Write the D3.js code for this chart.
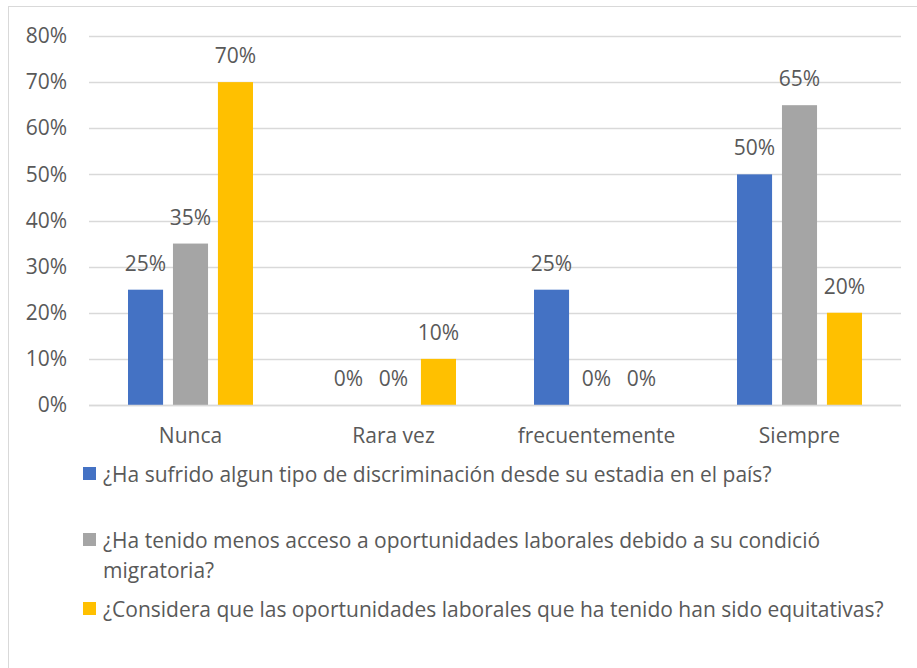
<!DOCTYPE html>
<html>
<head>
<meta charset="utf-8">
<script src="https://cdn.jsdelivr.net/npm/d3@7"></script>
<style>
  body { margin: 0; background: #fff; }
  text { font-family: "Open Sans", "Noto Sans", sans-serif; fill: #595959; }
</style>
</head>
<body>
<div id="chart"></div>
<script>
const categories = ["Nunca", "Rara vez", "frecuentemente", "Siempre"];
const seriesNames = [
  "¿Ha sufrido algun tipo de discriminación desde su estadia en el país?",
  "¿Ha tenido menos acceso a oportunidades laborales debido a su condició migratoria?",
  "¿Considera que las oportunidades laborales que ha tenido han sido equitativas?"
];
const seriesValues = [
  [0.25, 0, 0.25, 0.50],
  [0.35, 0, 0, 0.65],
  [0.70, 0.10, 0, 0.20]
];
const colors = ["#4472c4", "#a5a5a5", "#ffc000"];
const yTicks = [0, 0.1, 0.2, 0.3, 0.4, 0.5, 0.6, 0.7, 0.8];

const width = 917, height = 668;
const plot = { left: 89, right: 901, top: 36, bottom: 405 };
const fontSize = 21;

const svg = d3.select("#chart")
  .append("svg")
  .attr("width", width)
  .attr("height", height);

// chart frame
svg.append("rect")
  .attr("x", 8.5).attr("y", 6.5)
  .attr("width", 920).attr("height", 700)
  .attr("fill", "none")
  .attr("stroke", "#d9d9d9");

const x0 = d3.scaleBand()
  .domain(categories)
  .range([plot.left, plot.right]);

const x1 = d3.scaleBand()
  .domain(d3.range(seriesNames.length))
  .range([0, 125])
  .paddingInner(0.22);

const y = d3.scaleLinear()
  .domain([0, 0.8])
  .range([plot.bottom, plot.top]);

// gridlines
svg.append("g")
  .selectAll("line")
  .data(yTicks)
  .join("line")
  .attr("x1", plot.left).attr("x2", plot.right)
  .attr("y1", d => Math.round(y(d)) + 0.5)
  .attr("y2", d => Math.round(y(d)) + 0.5)
  .attr("stroke", "#d9d9d9")
  .attr("stroke-width", 1.3);

// y axis labels
const yAxis = d3.axisLeft(y)
  .tickValues(yTicks)
  .tickFormat(d3.format(".0%"))
  .tickSize(0)
  .tickPadding(0);

const yG = svg.append("g")
  .attr("transform", `translate(67,0)`)
  .call(yAxis);
yG.select(".domain").remove();
yG.selectAll("text")
  .attr("font-size", fontSize)
  .attr("font-family", null)
  .attr("fill", null);

// x axis labels
const xAxis = d3.axisBottom(x0).tickSize(0).tickPadding(0);
const xG = svg.append("g")
  .attr("transform", `translate(0,443)`)
  .call(xAxis);
xG.select(".domain").remove();
xG.selectAll("text")
  .attr("dy", 0)
  .attr("font-size", fontSize)
  .attr("font-family", null)
  .attr("fill", null);

// bars
const groups = svg.append("g")
  .selectAll("g")
  .data(categories)
  .join("g")
  .attr("transform", d => `translate(${x0(d) + (x0.bandwidth() - 125) / 2},0)`);

groups.selectAll("rect")
  .data((c, ci) => seriesValues.map((vals, si) => ({ si, v: vals[ci] })))
  .join("rect")
  .attr("x", d => x1(d.si))
  .attr("width", x1.bandwidth())
  .attr("y", d => y(d.v))
  .attr("height", d => y(0) - y(d.v))
  .attr("fill", d => colors[d.si]);

groups.selectAll("text.label")
  .data((c, ci) => seriesValues.map((vals, si) => ({ si, v: vals[ci] })))
  .join("text")
  .attr("class", "label")
  .attr("x", d => x1(d.si) + x1.bandwidth() / 2)
  .attr("y", d => y(d.v) - 19)
  .attr("text-anchor", "middle")
  .attr("font-size", fontSize)
  .text(d => d3.format(".0%")(d.v));

// axis baseline
svg.append("line")
  .attr("x1", plot.left).attr("x2", plot.right)
  .attr("y1", plot.bottom + 0.5).attr("y2", plot.bottom + 0.5)
  .attr("stroke", "#d9d9d9")
  .attr("stroke-width", 1.3);

// legend
const legendRows = [
  { si: 0, lines: [seriesNames[0]], y: 482 },
  { si: 1, lines: ["¿Ha tenido menos acceso a oportunidades laborales debido a su condició", "migratoria?"], y: 548 },
  { si: 2, lines: [seriesNames[2]], y: 617 }
];

const legend = svg.append("g");
legendRows.forEach(row => {
  legend.append("rect")
    .attr("x", 83).attr("y", row.y - 15)
    .attr("width", 13).attr("height", 13)
    .attr("fill", colors[row.si]);
  const t = legend.append("text")
    .attr("x", 103)
    .attr("y", row.y)
    .attr("font-size", fontSize);
  row.lines.forEach((line, i) => {
    t.append("tspan")
      .attr("x", 103)
      .attr("dy", i === 0 ? 0 : 30)
      .text(line);
  });
});
</script>
</body>
</html>
